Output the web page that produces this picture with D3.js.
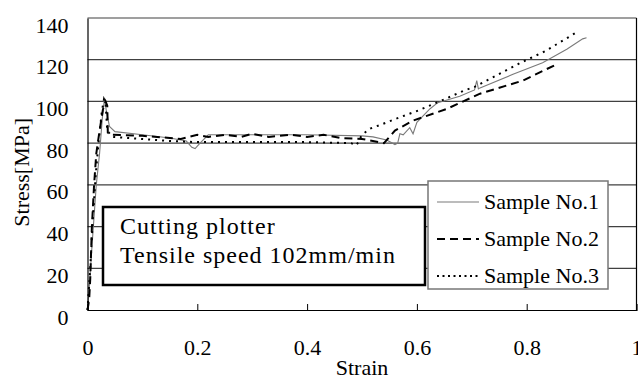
<!DOCTYPE html>
<meta charset="utf-8">
<style>
    body { margin: 0; background: #fff; }
    svg text { font-family: "Liberation Serif", "Times New Roman", serif; fill: #000; }
    .grid line { stroke: #404040; stroke-width: 1.2; }
    .axis path, .axis line { stroke: #000; }
    path.line { fill: none; }
</style>
<body>
<script src="https://cdn.jsdelivr.net/npm/d3@7"></script>
<script>

    // strain / stress pairs
    var sample1 = [[0,0],[0.003,10],[0.008,30],[0.012,45],[0.016,60],[0.022,75],[0.027,92],[0.031,101.5],
        [0.034,96],[0.04,88],[0.05,85.5],[0.1,84],[0.15,82.5],[0.18,81],[0.19,78],[0.196,77.4],[0.205,80],
        [0.22,84],[0.3,84],[0.4,84],[0.5,83.5],[0.52,83],[0.545,81.5],[0.56,79.3],[0.565,80],[0.569,84.5],
        [0.575,84],[0.587,87.4],[0.593,84.5],[0.6,90],[0.624,96.5],[0.638,99.4],[0.678,102.5],[0.705,105.5],
        [0.709,110],[0.712,106],[0.715,106.5],[0.775,113],[0.829,118.5],[0.873,125],[0.902,130],[0.909,130.5]];

    var sample2 = [[0,0],[0.003,5],[0.005,15],[0.008,40],[0.012,60],[0.016,75],[0.022,86],[0.028,96],
        [0.033,100],[0.036,98],[0.037,85],[0.045,84],[0.1,83.5],[0.15,82.5],[0.17,82],[0.2,84],[0.22,83],
        [0.25,84],[0.28,83],[0.3,84.5],[0.33,83],[0.37,84],[0.4,83],[0.43,84],[0.46,82.5],[0.5,82],
        [0.53,80.5],[0.54,80],[0.56,86],[0.593,90.8],[0.655,96.5],[0.715,103.7],[0.793,110],[0.856,118]];

    var sample3 = [[0,0],[0.005,20],[0.01,45],[0.015,65],[0.02,80],[0.026,95],[0.03,101],[0.033,99],
        [0.036,86],[0.045,83],[0.1,82],[0.15,81],[0.2,80.5],[0.3,80.5],[0.4,80.5],[0.48,80],[0.49,79],
        [0.5,84],[0.515,87],[0.536,89],[0.56,91.5],[0.602,95.6],[0.65,101],[0.684,105],[0.705,107],
        [0.787,118.3],[0.833,124],[0.89,133]];

    var seriesNames = ["Sample No.1", "Sample No.2", "Sample No.3"];
    var xTicks = [0, 0.2, 0.4, 0.6, 0.8, 1];
    var yTicks = [0, 20, 40, 60, 80, 100, 120, 140];
    var noteLines = ["Cutting plotter", "Tensile speed 102mm/min"];

    var styles = [
        {stroke: "#7a7a7a", width: 1.1, dash: null},
        {stroke: "#000", width: 2, dash: "8,5"},
        {stroke: "#000", width: 2, dash: "2,5"}
    ];

    var margin = {top: 18, right: 1.5, bottom: 71, left: 87.5},
        width = 638 - margin.left - margin.right,
        height = 381 - margin.top - margin.bottom;

    var x = d3.scaleLinear().domain([0, 1]).range([0, width]);
    var y = d3.scaleLinear().domain([0, 140]).range([height, 0]);

    var svg = d3.select("body").append("svg")
            .attr("width", 638)
            .attr("height", 381)
            .append("g")
            .attr("transform", "translate(" + margin.left + "," + margin.top + ")");

    // horizontal grid
    svg.append("g")
            .attr("class", "grid")
            .selectAll("line")
            .data(yTicks.slice(1))
            .enter().append("line")
            .attr("x1", 0).attr("x2", width)
            .attr("y1", y).attr("y2", y);

    // right border
    svg.append("line")
            .attr("x1", width).attr("x2", width)
            .attr("y1", 0).attr("y2", height)
            .attr("stroke", "#000").attr("stroke-width", 1.2);

    var line = d3.line()
            .x(function(d) { return x(d[0]); })
            .y(function(d) { return y(d[1]); });

    var allSeries = [sample1, sample2, sample3];

    svg.selectAll("path.line")
            .data(allSeries)
            .enter().append("path")
            .attr("class", "line")
            .attr("d", line)
            .attr("stroke", function(d, i) { return styles[i].stroke; })
            .attr("stroke-width", function(d, i) { return styles[i].width; })
            .attr("stroke-dasharray", function(d, i) { return styles[i].dash; });

    // x axis: ticks point inward
    var xAxis = d3.axisBottom(x).tickValues(xTicks).tickSize(-6).tickPadding(0)
            .tickFormat(function(d) { return d === 0 || d === 1 ? d : d3.format(".1f")(d); });
    var gx = svg.append("g")
            .attr("class", "x axis")
            .attr("transform", "translate(0," + height + ")")
            .call(xAxis);
    gx.attr("font-family", null);
    gx.select(".domain").attr("stroke-width", 1.2);
    gx.selectAll(".tick line").filter(function(d) { return d === 0 || d === 1; }).remove();
    gx.selectAll(".tick text")
            .attr("y", 45).attr("dy", 0)
            .style("font-size", "22px");

    var yAxis = d3.axisLeft(y).tickValues(yTicks).tickSize(0).tickPadding(19);
    var gy = svg.append("g")
            .attr("class", "y axis")
            .call(yAxis);
    gy.attr("font-family", null);
    gy.select(".domain").attr("stroke-width", 1.2);
    gy.selectAll(".tick text")
            .attr("dy", 0).attr("y", 14)
            .style("font-size", "22px");

    svg.append("text")
            .attr("transform", "rotate(-90)")
            .attr("x", -(y(66)))
            .attr("y", -59)
            .style("text-anchor", "middle")
            .style("font-size", "22px")
            .text("Stress[MPa]");

    svg.append("text")
            .attr("x", x(0.5))
            .attr("y", height + 65)
            .style("text-anchor", "middle")
            .style("font-size", "22px")
            .text("Strain");

    // note box
    var note = svg.append("g").attr("transform", "translate(15.5,189)");
    note.append("rect")
            .attr("width", 322).attr("height", 78)
            .attr("fill", "#fff").attr("stroke", "#000").attr("stroke-width", 2.5);
    note.selectAll("text")
            .data(noteLines)
            .enter().append("text")
            .attr("x", 17)
            .attr("y", function(d, i) { return 27 + i * 29; })
            .style("font-size", "24px")
            .style("letter-spacing", "1px")
            .text(function(d) { return d; });

    // legend
    var legend = svg.append("g").attr("transform", "translate(340.5,163)");
    legend.append("rect")
            .attr("width", 180).attr("height", 108)
            .attr("fill", "#fff").attr("stroke", "#777").attr("stroke-width", 1.5);
    var items = legend.selectAll("g.item")
            .data(seriesNames)
            .enter().append("g")
            .attr("class", "item")
            .attr("transform", function(d, i) { return "translate(0," + (21 + i * 37) + ")"; });
    items.append("line")
            .attr("x1", 9).attr("x2", 51)
            .attr("stroke", function(d, i) { return styles[i].stroke; })
            .attr("stroke-width", function(d, i) { return styles[i].width; })
            .attr("stroke-dasharray", function(d, i) { return i === 2 ? "2,3.5" : styles[i].dash; });
    items.append("text")
            .attr("x", 56)
            .attr("y", 7)
            .style("font-size", "22px")
            .text(function(d) { return d; });

</script>
